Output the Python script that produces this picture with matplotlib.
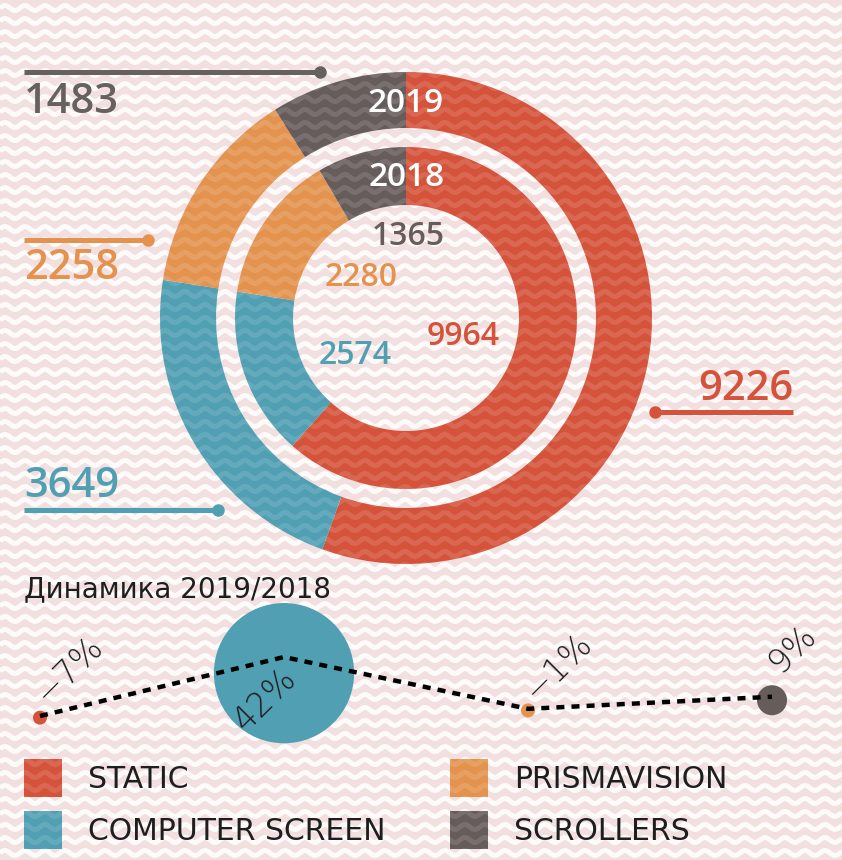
import numpy as np
import matplotlib
matplotlib.use("Agg")
from matplotlib import pyplot as plt
from matplotlib.collections import LineCollection
from matplotlib.patches import Rectangle
import matplotlib.transforms as mtransforms

# data
categories = ['STATIC', 'COMPUTER SCREEN', 'PRISMAVISION', 'SCROLLERS']
values_2019 = [9226, 3649, 2258, 1483]
values_2018 = [9964, 2574, 2280, 1365]
change_pct = [-7, 42, -1, 9]
change_labels = ['\u22127%', '42%', '\u22121%', '9%']
colors = ['#D4533A', '#509FB3', '#E4934F', '#665C5A']

W, H = 842, 860
NUM_FONT = 'Open Sans'
TXT_FONT = 'DejaVu Sans'


def Y(py):
    # pixel row from the top -> data y
    return H - py


def waves(color, alpha, zorder, lw=3.6):
    x = np.arange(0, W + 1, 1.0)
    segs = []
    for yy in np.arange(-6, H + 10, 13.0):
        segs.append(np.column_stack([x, yy + 2.5 * np.sin(2 * np.pi * x / 20.0)]))
    return LineCollection(segs, colors=color, alpha=alpha, linewidths=lw, zorder=zorder)


fig = plt.figure(figsize=(W / 100, H / 100), dpi=100)
fig.patch.set_facecolor('#F2DFE0')
ax = fig.add_axes([0, 0, 1, 1])
ax.set_facecolor('#F2DFE0')

# background pattern
ax.add_collection(waves('#FFFFFF', 0.85, 0.5))

# donut rings
cx, cy = 406, Y(318)
outer, _ = ax.pie(values_2019, radius=246, center=(cx, cy), startangle=90,
                  counterclock=False, colors=colors,
                  wedgeprops=dict(width=56, linewidth=0, zorder=1))
inner, _ = ax.pie(values_2018, radius=171, center=(cx, cy), startangle=90,
                  counterclock=False, colors=colors,
                  wedgeprops=dict(width=58, linewidth=0, zorder=1))
for w in list(outer) + list(inner):
    lc = waves('#FFFFFF', 0.12, 1.5)
    ax.add_collection(lc)
    lc.set_clip_path(w)

ax.set_xlim(0, W)
ax.set_ylim(0, H)
ax.set_aspect('auto')
ax.axis('off')

# year labels in the rings
ax.text(cx, Y(112), '2019', color='white', fontsize=24, fontweight='semibold',
        family=NUM_FONT, ha='center', va='baseline', zorder=5)
ax.text(cx, Y(186), '2018', color='white', fontsize=24, fontweight='semibold',
        family=NUM_FONT, ha='center', va='baseline', zorder=5)

# 2018 values inside
inner_pos = [(463, 345), (355, 364), (361, 286), (408, 245)]
for (tx, ty), v, c in zip(inner_pos, values_2018, colors):
    ax.text(tx, Y(ty), str(v), color=c, fontsize=23, fontweight='semibold',
            family=NUM_FONT, ha='center', va='baseline', zorder=5)

# 2019 values with leader lines
lead = [  # (line x0, line x1, line y, dot x, text x, text baseline, ha)
    (655, 793, 412, 655, 793, 400, 'right'),
    (24, 218, 510, 218, 24, 497, 'left'),
    (24, 148, 240, 148, 24, 279, 'left'),
    (24, 320, 72, 320, 24, 113, 'left'),
]
txt_colors = ['#D4533A', '#509FB3', '#E4934F', '#66605E']
for (x0, x1, ly, dx, tx, ty, ha), v, c in zip(lead, values_2019, txt_colors):
    ax.plot([x0, x1], [Y(ly), Y(ly)], color=c, lw=3.6, solid_capstyle='butt', zorder=3)
    ax.plot(dx, Y(ly), 'o', color=c, ms=9, mec='none', zorder=3)
    ax.text(tx, Y(ty), str(v), color=c, fontsize=30, fontweight='semibold',
            family=NUM_FONT, ha=ha, va='baseline', zorder=5)

# dynamics title
ax.text(24, Y(597), 'Динамика 2019/2018', color='#1E1E1E', fontsize=20,
        family=TXT_FONT, ha='left', va='baseline', zorder=5)

# legend
leg = [(24, 759), (24, 811), (450, 759), (450, 811)]
for (lx, ly), name, c in zip(leg, categories, colors):
    r = Rectangle((lx, Y(ly + 38)), 38, 38, facecolor=c, edgecolor='none', zorder=1)
    ax.add_patch(r)
    lc = waves('#FFFFFF', 0.12, 1.5)
    ax.add_collection(lc)
    lc.set_clip_path(r)
    ax.text(lx + 64, Y(ly + 29), name, color='#1E1E1E', fontsize=21.5,
            family=TXT_FONT, ha='left', va='baseline', zorder=5)

# dynamics line
px_per_x = 244.0
px_per_v = 1.204
top_px, bot_px = 600, 760
ax2 = fig.add_axes([0, (H - bot_px) / H, 1, (bot_px - top_px) / H])
ax2.patch.set_alpha(0)
ax2.axis('off')
ax2.set_xlim(-40 / px_per_x, (W - 40) / px_per_x)
ax2.set_ylim((707.6 - bot_px) / px_per_v, (707.6 - top_px) / px_per_v)

xs = np.arange(len(change_pct))
ch = np.array(change_pct, dtype=float)
radii = np.where(ch > 0, ch * 1.67, 7.0)
for i in range(len(ch)):
    tr = mtransforms.offset_copy(ax2.transData, fig=fig, x=0, y=-0.23 * radii[i], units='dots')
    ax2.scatter([xs[i]], [ch[i]], s=(2 * radii[i] * 0.72) ** 2, color=colors[i],
                edgecolors='none', transform=tr, zorder=2)
ax2.plot(xs, ch, color='black', lw=3.2, ls=(0, (1.8, 1.6)), zorder=3)

offsets = [(29, 46), (-19, -43), (30, 42), (21, 48)]
for i, lab in enumerate(change_labels):
    ax2.annotate(lab, (xs[i], ch[i]), xytext=offsets[i], textcoords='offset pixels',
                 ha='center', va='center', rotation=45, fontsize=24,
                 family=TXT_FONT, fontweight='light', color='#1E1E1E', zorder=4)

fig.savefig('out.png', dpi=100, facecolor=fig.get_facecolor())
